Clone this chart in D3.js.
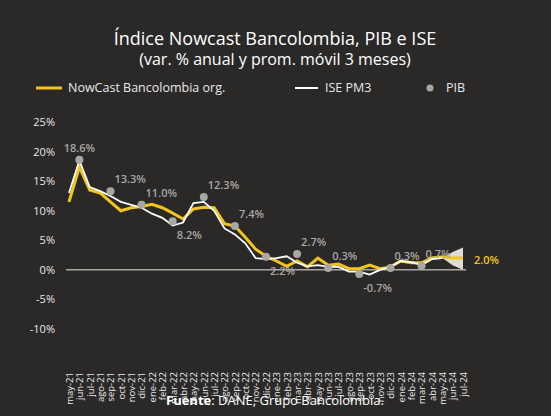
<!DOCTYPE html>
<html><head><meta charset="utf-8">
<script src="https://cdn.jsdelivr.net/npm/d3@7"></script>
<style>body{margin:0;background:#2a2928}svg{display:block}</style>
</head><body>
<svg id="c" width="551" height="416"></svg>
<script>
// Datos
const meses = ["may-21","jun-21","jul-21","ago-21","sep-21","oct-21","nov-21","dic-21","ene-22","feb-22","mar-22","abr-22","may-22","jun-22","jul-22","ago-22","sep-22","oct-22","nov-22","dic-22","ene-23","feb-23","mar-23","abr-23","may-23","jun-23","jul-23","ago-23","sep-23","oct-23","nov-23","dic-23","ene-24","feb-24","mar-24","abr-24","may-24","jun-24","jul-24"];
const nowcast = [11.5,17.4,13.5,13,11.5,10,10.5,10.7,11.1,10.5,9.6,8.6,10.3,10.6,10.5,7.8,7.4,5.5,3.5,2.3,1.5,0.6,1.5,0.5,2,0.8,1,0.2,0.2,0.8,0.2,0.5,1.5,1.2,1.2,2,2.2,2.0,2.0];
const ise = [13,18.5,14,13.3,12.5,11.5,11,10.5,9.5,8.8,7.5,8,11.3,11.5,10,7,6,4.5,2,1.8,2.0,2.3,1.2,0.6,0.8,0.5,0.5,-0.3,-0.3,-0.8,0.0,0.5,1.5,1.3,0.8,1.8,2.0];
const pibMes = ["jun-21","sep-21","dic-21","mar-22","jun-22","sep-22","dic-22","mar-23","jun-23","sep-23","dic-23","mar-24"];
const pib = [18.6,13.3,11.0,8.2,12.3,7.4,2.2,2.7,0.3,-0.7,0.3,0.7];
const pibArriba = [true,true,true,false,true,true,false,true,true,false,true,true];
const conoMes = ["may-24","jun-24","jul-24"];
const conoBajo = [2.0,0.8,0.0];
const conoAlto = [2.0,3.0,3.8];
const yTicks = [-10,-5,0,5,10,15,20,25];

const svg = d3.select("#c");
const amarillo = "#f2c51c", gris = "#a9a7a4", texto = "#e8e8e8";
const x = d3.scalePoint().domain(meses).range([69, 463]);
const y = d3.scaleLinear().domain([-10, 25]).range([329, 122]);

// Título
svg.append("text").attr("x", 275).attr("y", 45).attr("text-anchor", "middle")
  .attr("fill", "#fff").style("font", "500 18px 'Open Sans'").text("Índice Nowcast Bancolombia, PIB e ISE");
svg.append("text").attr("x", 275).attr("y", 65).attr("text-anchor", "middle")
  .attr("fill", "#fff").style("font", "500 16px 'Open Sans'").text("(var. % anual y prom. móvil 3 meses)");

// Leyenda
const ley = svg.append("g").style("font", "12.5px 'Open Sans'").attr("fill", texto);
ley.append("line").attr("x1", 36).attr("x2", 62).attr("y1", 88).attr("y2", 88).attr("stroke", amarillo).attr("stroke-width", 3);
ley.append("text").attr("x", 68).attr("y", 92).text("NowCast Bancolombia org.");
ley.append("line").attr("x1", 295).attr("x2", 318).attr("y1", 88).attr("y2", 88).attr("stroke", "#fff").attr("stroke-width", 2);
ley.append("text").attr("x", 325).attr("y", 92).text("ISE PM3");
ley.append("circle").attr("cx", 430).attr("cy", 88).attr("r", 3.5).attr("fill", gris);
ley.append("text").attr("x", 446).attr("y", 92).text("PIB");

// Eje Y
svg.append("g").attr("transform", "translate(58,0)")
  .call(d3.axisLeft(y).tickValues(yTicks).tickSize(0).tickFormat(d => d + "%"))
  .call(g => g.select(".domain").remove())
  .selectAll("text").attr("fill", texto).style("font", "11px 'Open Sans'");

// Eje X
svg.append("g").attr("transform", "translate(0,338)")
  .call(d3.axisBottom(x).tickSize(0))
  .call(g => g.select(".domain").remove())
  .selectAll("text").attr("fill", texto).style("font", "9.5px 'Open Sans'")
  .attr("text-anchor", "end").attr("transform", "rotate(-90)")
  .attr("x", -34).attr("y", 0).attr("dy", "0.35em");

// Línea cero
svg.append("line").attr("x1", 66).attr("x2", 466).attr("y1", y(0)).attr("y2", y(0)).attr("stroke", gris).attr("stroke-width", 1.5);

// Cono de pronóstico
const area = d3.area().x((d, i) => x(conoMes[i])).y0((d, i) => y(conoBajo[i])).y1((d, i) => y(conoAlto[i]));
svg.append("path").datum(conoMes).attr("d", area).attr("fill", "#f2f0e6").attr("opacity", 0.9);

const linea = d3.line().x((d, i) => x(meses[i])).y(d => y(d));
svg.append("path").datum(nowcast).attr("d", linea).attr("fill", "none").attr("stroke", amarillo).attr("stroke-width", 3);
svg.append("path").datum(ise).attr("d", linea).attr("fill", "none").attr("stroke", "#fff").attr("stroke-width", 1.8);

// PIB
const gp = svg.append("g");
pib.forEach((v, i) => {
  const cx = x(pibMes[i]), cy = y(v);
  gp.append("circle").attr("cx", cx).attr("cy", cy).attr("r", 4).attr("fill", gris);
  gp.append("text").attr("x", cx + (i === 0 ? 0 : 4)).attr("y", pibArriba[i] ? cy - 8 : cy + 18)
    .attr("text-anchor", i === 0 ? "middle" : "start").attr("fill", gris)
    .style("font", "600 11px 'Open Sans'").text(v.toFixed(1) + "%");
});

svg.append("text").attr("x", 474).attr("y", 264).attr("fill", amarillo)
  .style("font", "600 11px 'Open Sans'").text(nowcast[nowcast.length - 1].toFixed(1) + "%");

// Fuente
const f = svg.append("text").attr("x", 275).attr("y", 405).attr("text-anchor", "middle")
  .attr("fill", "#fff").style("font", "13px 'Open Sans'");
f.append("tspan").style("font-weight", "700").text("Fuente");
f.append("tspan").text(": DANE, Grupo Bancolombia.");
</script>
</body></html>
